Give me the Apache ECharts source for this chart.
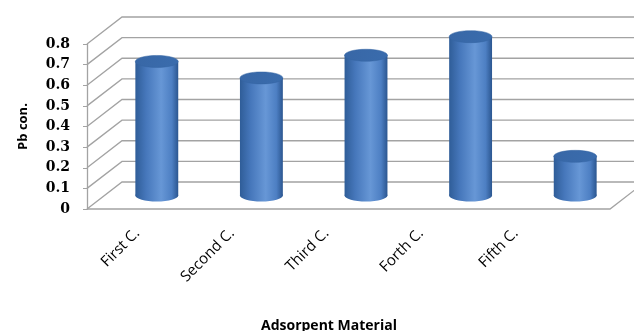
<!DOCTYPE html>
<html>
<head>
<meta charset="utf-8">
<script src="https://cdn.jsdelivr.net/npm/echarts@6/dist/echarts.min.js"></script>
<style>html,body{margin:0;padding:0;background:#fff}#c{width:634px;height:331px}</style>
</head>
<body>
<div id="c"></div>
<script>
const categories = ['First C.', 'Second C.', 'Third C.', 'Forth C.', 'Fifth C.'];
const pbValues = [0.65, 0.57, 0.68, 0.77, 0.19];
const yTicks = [0, 0.1, 0.2, 0.3, 0.4, 0.5, 0.6, 0.7, 0.8];

const DX = 35, DY = -27;
const chart = echarts.init(document.getElementById('c'), null, {renderer: 'canvas'});
const gridColor = '#a3a3a3';

function wallItem(params, api) {
  const cs = params.coordSys;
  const v = api.value(0);
  const y = api.coord([0, v])[1];
  const x0 = cs.x, x1 = cs.x + cs.width;
  const children = [{
    type: 'polyline',
    shape: {points: [[x0, y], [x0 + DX, y + DY], [x1 + DX, y + DY]]},
    style: {stroke: gridColor, lineWidth: 1.3, fill: null}
  }];
  if (v === 0) {
    children.push({
      type: 'polyline',
      shape: {points: [[x0, y], [x1, y], [x1 + DX, y + DY]]},
      style: {stroke: gridColor, lineWidth: 1.3, fill: null}
    });
  }
  return {type: 'group', children};
}

function cylItem(params, api) {
  const i = api.value(0);
  const v = api.value(1);
  const top = api.coord([i, v]);
  const base = api.coord([i, 0]);
  const w = api.size([1, 0])[0] * 0.41;
  const rx = w / 2, ry = 6;
  const cx = top[0] + DX / 2;
  const yT = top[1] + DY / 2;
  const yB = base[1] + DY / 2;
  const bodyGrad = new echarts.graphic.LinearGradient(0, 0, 1, 0, [
    {offset: 0, color: '#2f5d98'},
    {offset: 0.25, color: '#4677bb'},
    {offset: 0.6, color: '#6797d6'},
    {offset: 0.85, color: '#4d7fc3'},
    {offset: 1, color: '#2b5690'}
  ]);
  const topGrad = new echarts.graphic.LinearGradient(0, 0, 1, 1, [
    {offset: 0, color: '#3867a6'},
    {offset: 1, color: '#3a6cad'}
  ]);
  return {
    type: 'group',
    children: [
      {type: 'ellipse', shape: {cx: cx, cy: yB, rx: rx, ry: ry}, style: {fill: bodyGrad}},
      {type: 'rect', shape: {x: cx - rx, y: yT, width: 2 * rx, height: yB - yT}, style: {fill: bodyGrad}},
      {type: 'ellipse', shape: {cx: cx, cy: yT, rx: rx, ry: ry}, style: {fill: topGrad, stroke: '#3565a3', lineWidth: 0.5}}
    ]
  };
}

chart.setOption({
  animation: false,
  title: {
    text: 'Adsorpent Material',
    left: 256, top: 314,
    textStyle: {fontFamily: 'Open Sans', fontWeight: 'bold', fontSize: 14, color: '#000'}
  },
  grid: [
    {left: 87, right: 24, top: 44, bottom: 122},
    {left: 90, width: 473, top: 44, bottom: 122}
  ],
  xAxis: [
    {type: 'category', gridIndex: 0, data: categories, axisLine: {show: false}, axisTick: {show: false}, axisLabel: {show: false}},
    {type: 'category', gridIndex: 1, data: categories, axisLine: {show: false}, axisTick: {show: false},
     axisLabel: {rotate: 45, margin: 22, fontFamily: 'Open Sans', fontSize: 15, color: '#000'}}
  ],
  yAxis: [
    {type: 'value', gridIndex: 0, min: 0, max: 0.8, interval: 0.1,
     name: 'Pb con.', nameLocation: 'middle', nameRotate: 90, nameGap: 57,
     nameTextStyle: {fontFamily: 'Open Sans', fontWeight: 'bold', fontSize: 13, color: '#000'},
     axisLine: {show: true, lineStyle: {color: gridColor, width: 1.3}},
     axisTick: {show: true, length: 4, lineStyle: {color: gridColor}},
     splitLine: {show: false},
     axisLabel: {margin: 17, fontFamily: 'DejaVu Serif', fontWeight: 'bold', fontSize: 14, color: '#000',
       formatter: function (v) { return String(Math.round(v * 10) / 10); }}},
    {type: 'value', gridIndex: 1, min: 0, max: 0.8, show: false}
  ],
  series: [
    {type: 'custom', xAxisIndex: 0, yAxisIndex: 0, data: yTicks.map(v => [v]), renderItem: wallItem, silent: true, z: 1},
    {type: 'custom', xAxisIndex: 0, yAxisIndex: 0, data: pbValues.map((v, i) => [i, v]), renderItem: cylItem, z: 2}
  ]
});
</script>
</body>
</html>
